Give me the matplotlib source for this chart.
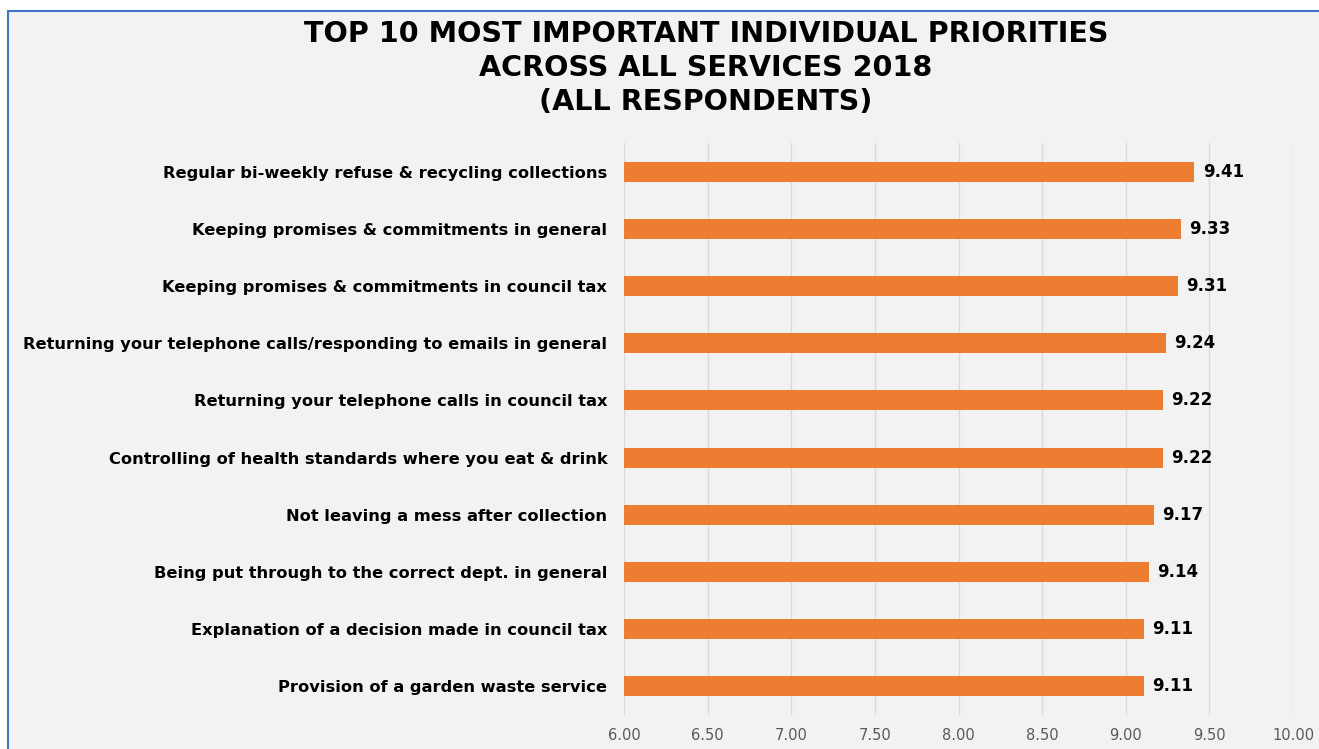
import matplotlib
matplotlib.use('Agg')
import matplotlib.pyplot as plt

priorities = [
    'Regular bi-weekly refuse & recycling collections',
    'Keeping promises & commitments in general',
    'Keeping promises & commitments in council tax',
    'Returning your telephone calls/responding to emails in general',
    'Returning your telephone calls in council tax',
    'Controlling of health standards where you eat & drink',
    'Not leaving a mess after collection',
    'Being put through to the correct dept. in general',
    'Explanation of a decision made in council tax',
    'Provision of a garden waste service',
]
scores = [9.41, 9.33, 9.31, 9.24, 9.22, 9.22, 9.17, 9.14, 9.11, 9.11]
x_ticks = [6.0, 6.5, 7.0, 7.5, 8.0, 8.5, 9.0, 9.5, 10.0]

plt.rcParams['font.family'] = ['DejaVu Sans']

bg = '#F2F2F2'
fig = plt.figure(figsize=(13.19, 7.49), dpi=100, facecolor='white')

# chart area panel with blue outline (runs off the right/bottom edge)
panel = plt.Rectangle((8 / 1319, -0.05), 1.1, 1 - 11 / 749 + 0.05,
                      transform=fig.transFigure, facecolor=bg,
                      edgecolor='#4472C4', linewidth=1.5, zorder=-10)
fig.add_artist(panel)

ax = fig.add_axes([624 / 1319, 34 / 749, 669 / 1319, 572 / 749])
ax.set_zorder(1)
ax.set_facecolor(bg)

y = list(range(len(priorities)))
ax.barh(y, [s - 6.0 for s in scores], left=6.0, height=0.35,
        color='#ED7D31', zorder=3)
for yi, s in zip(y, scores):
    ax.text(s + 0.05, yi, f'{s:.2f}', va='center', ha='left',
            fontsize=12, fontweight='bold', color='black')

ax.set_xlim(6.0, 10.0)
ax.set_ylim(len(priorities) - 0.5, -0.5)
ax.set_xticks(x_ticks)
ax.set_xticklabels([f'{t:.2f}' for t in x_ticks])
ax.set_yticks(y)
ax.set_yticklabels(priorities, fontsize=11.7, fontweight='bold')
ax.tick_params(axis='x', length=0, pad=9.5, labelsize=10.5, labelcolor='#595959')
ax.tick_params(axis='y', length=0, pad=12)
ax.grid(axis='x', color='#D9D9D9', linewidth=1, zorder=0)
for sp in ax.spines.values():
    sp.set_visible(False)

fig.text(706 / 1319, 1 - 68 / 749,
         'TOP 10 MOST IMPORTANT INDIVIDUAL PRIORITIES\nACROSS ALL SERVICES 2018\n(ALL RESPONDENTS)',
         ha='center', va='center', fontsize=20.6, fontweight='bold',
         linespacing=1.28)

fig.savefig('out.png', dpi=100, facecolor='white')
